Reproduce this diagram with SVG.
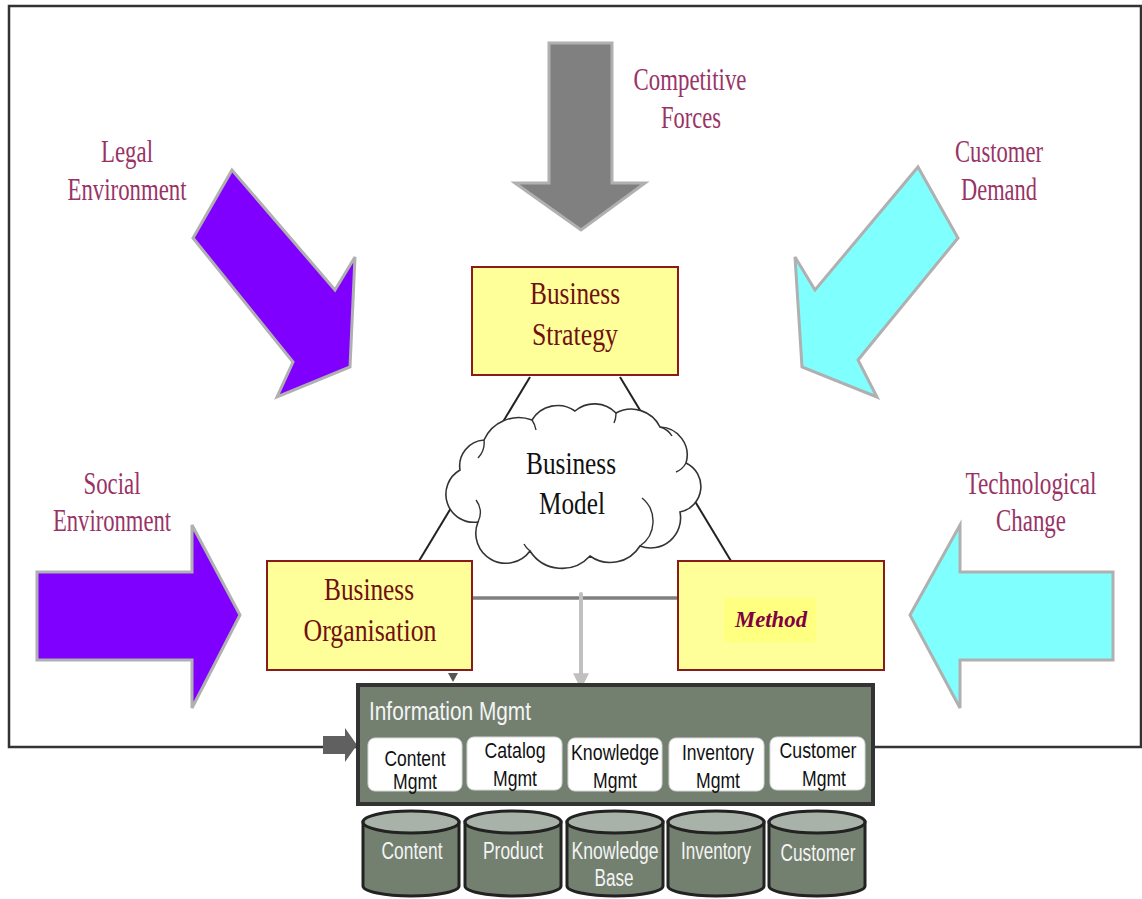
<svg xmlns="http://www.w3.org/2000/svg" width="1142" height="899" viewBox="0 0 1142 899">
  <style>
    .lbl { font-family: "Liberation Serif", "Times New Roman", serif; font-size: 31px; fill: #993366; text-anchor: middle; }
    .box { fill: #FFFF99; stroke: #8B1A1A; stroke-width: 2; }
    .boxtxt { font-family: "Liberation Serif", "Times New Roman", serif; font-size: 32px; fill: #701010; text-anchor: middle; }
    .cloudtxt { font-family: "Liberation Serif", "Times New Roman", serif; font-size: 32px; fill: #111; text-anchor: middle; }
    .force { stroke: #B0B0B0; stroke-width: 3; stroke-linejoin: miter; }
    .purple { fill: #8000FF; }
    .cyan { fill: #80FFFF; }
    .sub { fill: #FFFFFF; stroke: #D8D8D8; stroke-width: 1; }
    .subtxt { font-family: "Liberation Sans", Arial, sans-serif; font-size: 22px; fill: #111; text-anchor: middle; }
    .dbtxt { font-family: "Liberation Sans", Arial, sans-serif; font-size: 23px; fill: #F4F4F4; text-anchor: middle; }
    .link { stroke: #222; stroke-width: 2; fill: none; }
  </style>
  <defs>
    <g id="cyl">
      <path d="M0,12 L0,76 A48,10 0 0 0 96,76 L96,12 Z" fill="#738070" stroke="#222" stroke-width="3"/>
      <ellipse cx="48" cy="12" rx="48" ry="11" fill="#A9B2A8" stroke="#222" stroke-width="3"/>
    </g>
    <marker id="tri" viewBox="0 0 10 10" refX="8" refY="5" markerWidth="4" markerHeight="4" orient="auto">
      <path d="M0,0 L10,5 L0,10 Z" fill="#C0C0C0"/>
    </marker>
  </defs>

  <rect width="1142" height="899" fill="#FFFFFF"/>

  <!-- outer frame -->
  <g id="frame" fill="none" stroke="#333" stroke-width="2.5">
    <polyline points="357,747 9,747 9,6 1141,6 1141,747 873,747"/>
  </g>

  <!-- environmental forces -->
  <g id="competitive-forces">
    <polygon class="force" points="549,43 612,43 612,183 645,183 581,230 515,183 549,183" fill="#808080"/>
    <text class="lbl" x="690" y="90" textLength="113" lengthAdjust="spacingAndGlyphs">Competitive</text>
    <text class="lbl" x="691" y="128" textLength="60" lengthAdjust="spacingAndGlyphs">Forces</text>
  </g>
  <g id="legal-environment">
    <polygon class="force purple" points="232,170 193,238 293,362 277,397 350,367 355,257 335,290"/>
    <text class="lbl" x="127" y="162" textLength="52" lengthAdjust="spacingAndGlyphs">Legal</text>
    <text class="lbl" x="127" y="200" textLength="119" lengthAdjust="spacingAndGlyphs">Environment</text>
  </g>
  <g id="customer-demand">
    <polygon class="force cyan" points="918,167 958,238 858,360 877,397 802,367 795,257 815,290"/>
    <text class="lbl" x="999" y="162" textLength="88" lengthAdjust="spacingAndGlyphs">Customer</text>
    <text class="lbl" x="999" y="200" textLength="76" lengthAdjust="spacingAndGlyphs">Demand</text>
  </g>
  <g id="social-environment">
    <polygon class="force purple" points="37,572 192,572 192,525 240,615 192,708 192,660 37,660"/>
    <text class="lbl" x="112" y="494" textLength="57" lengthAdjust="spacingAndGlyphs">Social</text>
    <text class="lbl" x="112" y="531" textLength="118" lengthAdjust="spacingAndGlyphs">Environment</text>
  </g>
  <g id="technological-change">
    <polygon class="force cyan" points="1113,572 960,572 960,525 910,615 960,708 960,660 1113,660"/>
    <text class="lbl" x="1031" y="494" textLength="131" lengthAdjust="spacingAndGlyphs">Technological</text>
    <text class="lbl" x="1031" y="531" textLength="70" lengthAdjust="spacingAndGlyphs">Change</text>
  </g>

  <!-- connectors -->
  <g id="connectors">
    <line class="link" x1="530" y1="377" x2="419" y2="561"/>
    <line class="link" x1="620" y1="377" x2="731" y2="561"/>
    <line x1="472" y1="598" x2="678" y2="598" stroke="#808080" stroke-width="3.5"/>
    <line x1="581" y1="594" x2="581" y2="686" stroke="#C0C0C0" stroke-width="4" stroke-linecap="round" marker-end="url(#tri)"/>
    <polygon points="448,673 458,673 453,682" fill="#555"/>
    <polygon points="323,736 345,736 345,728 357,745 345,762 345,754 323,754" fill="#606060"/>
  </g>

  <g id="business-model">
    <path d="M478,522 A28,28 0 0 1 460,470 A26,26 0 0 1 484,440 A38,38 0 0 1 532,420 A30,30 0 0 1 575,411 A30,30 0 0 1 616,413 A32,32 0 0 1 660,427 A28,28 0 0 1 686,463 A26,26 0 0 1 680,512 A30,30 0 0 1 640,546 A35,35 0 0 1 590,556 A38,38 0 0 1 530,551 A30,30 0 0 1 478,522 Z" fill="#FFFFFF" stroke="#333" stroke-width="1.6"/>
    <path d="M484,440 A22,22 0 0 1 478,458 M532,420 A24,24 0 0 1 536,430 M616,413 A22,22 0 0 1 614,423 M660,427 A20,20 0 0 1 672,436 M686,463 A20,20 0 0 1 676,472 M640,546 A30,30 0 0 0 642,498 M530,551 A22,22 0 0 1 524,544 M478,522 A20,20 0 0 0 476,500" fill="none" stroke="#333" stroke-width="1.4"/>
    <text class="cloudtxt" x="571" y="474" textLength="90" lengthAdjust="spacingAndGlyphs">Business</text>
    <text class="cloudtxt" x="572" y="514" textLength="66" lengthAdjust="spacingAndGlyphs">Model</text>
  </g>

  <g id="business-strategy">
    <rect class="box" x="472" y="267" width="206" height="108"/>
    <text class="boxtxt" x="575" y="304" textLength="90" lengthAdjust="spacingAndGlyphs">Business</text>
    <text class="boxtxt" x="575" y="345" textLength="86" lengthAdjust="spacingAndGlyphs">Strategy</text>
  </g>

  <g id="business-organisation">
    <rect class="box" x="267" y="561" width="205" height="109"/>
    <text class="boxtxt" x="369" y="600" textLength="90" lengthAdjust="spacingAndGlyphs">Business</text>
    <text class="boxtxt" x="370" y="641" textLength="133" lengthAdjust="spacingAndGlyphs">Organisation</text>
  </g>

  <g id="method">
    <rect class="box" x="678" y="561" width="206" height="109"/>
    <rect x="724" y="598" width="92" height="44" fill="#FFFF80"/>
    <text x="771" y="627" textLength="72" lengthAdjust="spacingAndGlyphs" font-family="Liberation Serif, serif" font-size="23" font-weight="bold" font-style="italic" fill="#800040" text-anchor="middle">Method</text>
  </g>

  <g id="information-mgmt">
    <rect x="358" y="685" width="515" height="119" fill="#738070" stroke="#333" stroke-width="4"/>
    <text x="369" y="720" textLength="162" lengthAdjust="spacingAndGlyphs" font-family="Liberation Sans, Arial, sans-serif" font-size="25" fill="#F4F4F4">Information Mgmt</text>
  </g>

  <g id="content-mgmt">
    <rect class="sub" x="368" y="738" width="94" height="53" rx="7"/>
    <text class="subtxt" x="415" y="766" textLength="61" lengthAdjust="spacingAndGlyphs">Content</text>
    <text class="subtxt" x="415" y="789" textLength="44" lengthAdjust="spacingAndGlyphs">Mgmt</text>
  </g>
  <g id="catalog-mgmt">
    <rect class="sub" x="467" y="737" width="95" height="53" rx="7"/>
    <text class="subtxt" x="515" y="758" textLength="61" lengthAdjust="spacingAndGlyphs">Catalog</text>
    <text class="subtxt" x="515" y="786" textLength="44" lengthAdjust="spacingAndGlyphs">Mgmt</text>
  </g>
  <g id="knowledge-mgmt">
    <rect class="sub" x="568" y="738" width="94" height="53" rx="7"/>
    <text class="subtxt" x="615" y="760" textLength="88" lengthAdjust="spacingAndGlyphs">Knowledge</text>
    <text class="subtxt" x="615" y="788" textLength="44" lengthAdjust="spacingAndGlyphs">Mgmt</text>
  </g>
  <g id="inventory-mgmt">
    <rect class="sub" x="669" y="738" width="95" height="53" rx="7"/>
    <text class="subtxt" x="718" y="760" textLength="72" lengthAdjust="spacingAndGlyphs">Inventory</text>
    <text class="subtxt" x="718" y="788" textLength="44" lengthAdjust="spacingAndGlyphs">Mgmt</text>
  </g>
  <g id="customer-mgmt">
    <rect class="sub" x="770" y="737" width="95" height="53" rx="7"/>
    <text class="subtxt" x="818" y="758" textLength="77" lengthAdjust="spacingAndGlyphs">Customer</text>
    <text class="subtxt" x="824" y="786" textLength="44" lengthAdjust="spacingAndGlyphs">Mgmt</text>
  </g>

  <!-- data stores -->
  <g id="content-db">
    <use href="#cyl" x="363" y="810"/>
    <text class="dbtxt" x="412" y="859" textLength="61" lengthAdjust="spacingAndGlyphs">Content</text>
  </g>
  <g id="product-db">
    <use href="#cyl" x="465" y="810"/>
    <text class="dbtxt" x="513" y="859" textLength="60" lengthAdjust="spacingAndGlyphs">Product</text>
  </g>
  <g id="knowledge-base-db">
    <use href="#cyl" x="567" y="810"/>
    <text class="dbtxt" x="615" y="859" textLength="87" lengthAdjust="spacingAndGlyphs">Knowledge</text>
    <text class="dbtxt" x="614" y="886" textLength="39" lengthAdjust="spacingAndGlyphs">Base</text>
  </g>
  <g id="inventory-db">
    <use href="#cyl" x="668" y="810"/>
    <text class="dbtxt" x="716" y="859" textLength="70" lengthAdjust="spacingAndGlyphs">Inventory</text>
  </g>
  <g id="customer-db">
    <use href="#cyl" x="769" y="810"/>
    <text class="dbtxt" x="818" y="861" textLength="75" lengthAdjust="spacingAndGlyphs">Customer</text>
  </g>
</svg>
